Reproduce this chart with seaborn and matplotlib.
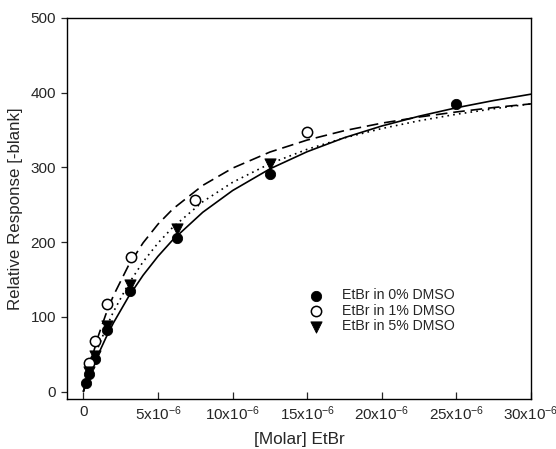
import numpy as np
import pandas as pd
import matplotlib
matplotlib.use("Agg")
import matplotlib.pyplot as plt
import seaborn as sns

# ---- data (concentrations in micromolar, converted to molar below) ----
x0 = [0.195, 0.39, 0.78, 1.56, 3.125, 6.25, 12.5, 25.0]
y0 = [11, 23, 44, 83, 135, 205, 291, 385]
x1 = [0.39, 0.78, 1.56, 3.2, 7.5, 15.0]
y1 = [38, 68, 117, 180, 257, 347]
x5 = [0.39, 0.78, 1.56, 3.125, 6.25, 12.5]
y5 = [26, 48, 88, 142, 217, 305]

# fitted curves
cx = [0, 0.2, 0.5, 1, 1.5, 2, 3, 4, 5, 6, 8, 10, 12.5, 15, 17.5, 20, 22.5, 25, 27.5, 30]
c0 = [0, 10.8, 26.3, 50.0, 71.6, 91.4, 126.0, 155.6, 181.0, 203.2, 239.9, 269.0, 298.0,
      321.0, 339.8, 355.4, 368.5, 379.8, 389.5, 398.0]
c1 = [0, 17.2, 40.6, 74.5, 103.1, 127.8, 167.8, 199.0, 224.0, 244.4, 275.9, 299.0, 320.5,
      336.6, 349.2, 359.2, 367.4, 374.2, 380.1, 385.0]
c5 = [0, 13.3, 31.9, 59.8, 84.4, 106.2, 143.3, 173.6, 198.7, 220.0, 254.0, 280.0, 305.0,
      324.2, 339.5, 352.0, 362.4, 371.1, 378.5, 385.0]

labels = ["EtBr in 0% DMSO", "EtBr in 1% DMSO", "EtBr in 5% DMSO"]
xticks = [0, 5, 10, 15, 20, 25, 30]
xticklabels = ["0"] + [r"%dx10$^{-6}$" % v for v in xticks[1:]]
yticks = [0, 100, 200, 300, 400, 500]

sns.set_style("ticks")
plt.rcParams["font.family"] = ["Liberation Sans", "DejaVu Sans"]
plt.rcParams["mathtext.fontset"] = "custom"
plt.rcParams["mathtext.rm"] = "Liberation Sans"
plt.rcParams["mathtext.it"] = "Liberation Sans:italic"
plt.rcParams["mathtext.bf"] = "Liberation Sans:bold"
plt.rcParams["mathtext.default"] = "regular"

pts = pd.concat([
    pd.DataFrame({"x": np.array(x0) * 1e-6, "y": y0, "s": labels[0]}),
    pd.DataFrame({"x": np.array(x1) * 1e-6, "y": y1, "s": labels[1]}),
    pd.DataFrame({"x": np.array(x5) * 1e-6, "y": y5, "s": labels[2]}),
])
curves = pd.concat([
    pd.DataFrame({"x": np.array(cx) * 1e-6, "y": c0, "s": labels[0]}),
    pd.DataFrame({"x": np.array(cx) * 1e-6, "y": c1, "s": labels[1]}),
    pd.DataFrame({"x": np.array(cx) * 1e-6, "y": c5, "s": labels[2]}),
])

fig = plt.figure(figsize=(5.56, 4.49), dpi=100)
ax = fig.add_axes([0.1205, 0.1114, 0.8345, 0.8486])

styles = {labels[0]: None, labels[1]: (7, 3.5), labels[2]: (1, 2.5)}
for lab in labels:
    d = curves[curves["s"] == lab]
    sns.lineplot(data=d, x="x", y="y", color="black", lw=1.2, ax=ax,
                 legend=False, estimator=None, sort=False)
    line = ax.lines[-1]
    if styles[lab] is not None:
        line.set_dashes(styles[lab])

d = pts[pts["s"] == labels[0]]
sns.scatterplot(data=d, x="x", y="y", marker="o", s=55, color="black",
                edgecolor="black", ax=ax, label=labels[0], zorder=5)
d = pts[pts["s"] == labels[1]]
sns.scatterplot(data=d, x="x", y="y", marker="o", s=55, facecolor="white",
                edgecolor="black", linewidth=1.1, ax=ax, label=labels[1], zorder=5)
d = pts[pts["s"] == labels[2]]
sns.scatterplot(data=d, x="x", y="y", marker="v", s=65, color="black",
                edgecolor="black", ax=ax, label=labels[2], zorder=5)

ax.set_xlim(-1.1e-6, 30e-6)
ax.set_ylim(-10, 500)
ax.set_xticks([v * 1e-6 for v in xticks])
ax.set_xticklabels(xticklabels, fontsize=11)
ax.set_yticks(yticks)
ax.set_yticklabels([str(v) for v in yticks], fontsize=11)
ax.tick_params(axis="x", direction="in", length=5, width=0.9, pad=4)
ax.tick_params(axis="y", direction="out", length=4, width=0.9, pad=4)
for sp in ax.spines.values():
    sp.set_visible(True)
    sp.set_linewidth(1.0)
    sp.set_color("black")

ax.set_xlabel("[Molar] EtBr", fontsize=12.3, labelpad=6.5)
ax.set_ylabel("Relative Response [-blank]", fontsize=12.2, labelpad=5)

leg = ax.legend(loc="upper left", bbox_to_anchor=(0.51, 0.305), frameon=False,
                fontsize=10.2, handletextpad=1.3, labelspacing=0.1,
                borderaxespad=0, handlelength=1.0)

fig.savefig("out.png", dpi=100)
